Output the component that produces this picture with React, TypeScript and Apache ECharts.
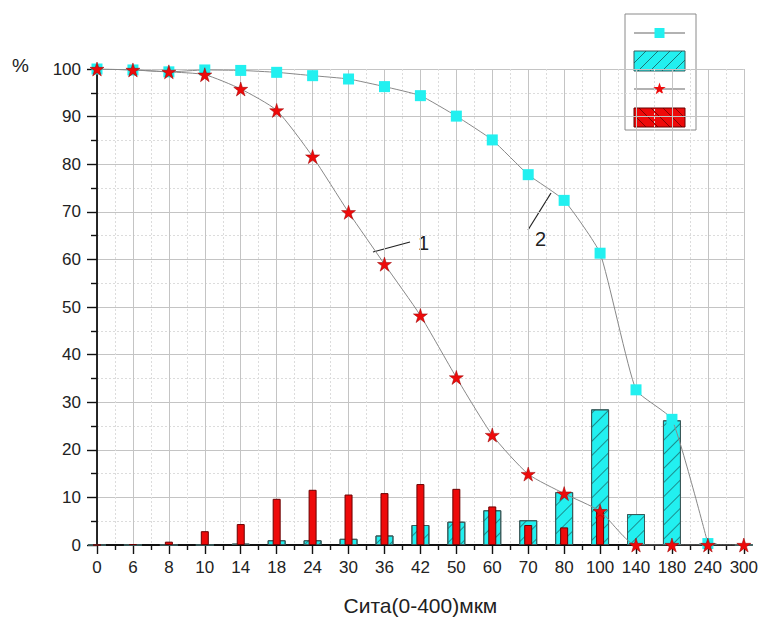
import React, { useEffect, useRef } from "react";
import * as echarts from "echarts";

const categories = ["0", "6", "8", "10", "14", "18", "24", "30", "36", "42", "50", "60", "70", "80", "100", "140", "180", "240", "300"];
const passingCyan: (number | null)[] = [100, 99.8, 99.4, 99.8, 99.7, 99.3, 98.6, 97.9, 96.3, 94.4, 90.1, 85.1, 77.8, 72.4, 61.3, 32.6, 26.4, 0.3, null];
const passingRed = [100, 99.8, 99.4, 98.8, 95.8, 91.3, 81.6, 69.9, 59.0, 48.2, 35.2, 23.1, 14.9, 10.8, 7.1, 0, 0, 0, 0];
const fractionCyan = [0, 0, 0, 0, 0.3, 1.0, 1.0, 1.3, 2.0, 4.2, 4.9, 7.3, 5.2, 11.1, 28.5, 6.5, 26.2, 0.3, 0];
const fractionRed = [0, 0.2, 0.7, 2.9, 4.4, 9.7, 11.6, 10.6, 10.9, 12.8, 11.8, 8.1, 4.2, 3.7, 7.4, 0, 0, 0, 0];
const yTicks = { min: 0, max: 100, step: 10 };
const xTitle = "Сита(0-400)мкм";
const yTitle = "%";
const curveLabels = ["1", "2"];

const STAR = "path://M50 0L61.2 34.5L97.6 34.5L68.2 55.9L79.4 90.5L50 69.1L20.6 90.5L31.8 55.9L2.4 34.5L38.8 34.5Z";
const FONT = "Liberation Sans, Arial, sans-serif";
const CYAN = "#22f0f0";
const RED = "#ee0a0a";

function hatch(x0: number, y0: number, x1: number, y1: number, step: number, dir: 1 | -1, color: string) {
  const els: any[] = [];
  const h = y1 - y0;
  for (let s = -h; s < x1 - x0 + h; s += step) {
    let ax = x0 + s, bx = x0 + s + h;
    let ay: number, by: number;
    if (dir === 1) {
      ay = y1; by = y0;
      if (ax < x0) { ay = y1 - (x0 - ax); ax = x0; }
      if (bx > x1) { by = y0 + (bx - x1); bx = x1; }
    } else {
      ay = y0; by = y1;
      if (ax < x0) { ay = y0 + (x0 - ax); ax = x0; }
      if (bx > x1) { by = y1 - (bx - x1); bx = x1; }
    }
    if (ax >= bx) continue;
    els.push({ type: "line", shape: { x1: ax, y1: ay, x2: bx, y2: by }, style: { stroke: color, lineWidth: 1 }, silent: true });
  }
  return els;
}

export default function App() {
  const ref = useRef<HTMLDivElement>(null);
  useEffect(() => {
    document.body.style.margin = "0";
    const chart = echarts.init(ref.current!, null, { renderer: "svg" });
    const xAxisBase = {
      type: "value",
      min: 0,
      max: categories.length - 1,
      interval: 1,
    };
    const legendX0 = 634, legendX1 = 685;
    const option: any = {
      animation: false,
      backgroundColor: "#fff",
      grid: { left: 97, top: 69, right: 16, bottom: 71 },
      xAxis: [
        {
          ...xAxisBase,
          name: xTitle,
          nameLocation: "middle",
          nameGap: 50,
          nameTextStyle: { fontFamily: FONT, fontSize: 21, color: "#222" },
          axisLine: { show: true, onZero: false, lineStyle: { color: "#111", width: 1.8 } },
          axisTick: { show: true, inside: false, length: 9, lineStyle: { color: "#111", width: 1.4 } },
          minorTick: { show: true, splitNumber: 2, length: 5, lineStyle: { color: "#111", width: 1.4 } },
          axisLabel: {
            margin: 14,
            fontFamily: FONT,
            fontSize: 17,
            color: "#222",
            formatter: (v: number) => categories[Math.round(v)] ?? "",
          },
          splitLine: { show: true, lineStyle: { color: "#c4c4c4", width: 1 } },
          minorSplitLine: { show: true, lineStyle: { color: "#dcdcdc", width: 1, type: [2, 2] } },
        },
        { ...xAxisBase, show: false },
      ],
      yAxis: {
        type: "value",
        min: yTicks.min,
        max: yTicks.max,
        interval: yTicks.step,
        axisLine: { show: true, lineStyle: { color: "#111", width: 1.8 } },
        axisTick: { show: true, length: 10, lineStyle: { color: "#111", width: 1.4 } },
        minorTick: { show: true, splitNumber: 2, length: 6, lineStyle: { color: "#111", width: 1.4 } },
        axisLabel: { margin: 16, fontFamily: FONT, fontSize: 17, color: "#222" },
        splitLine: { show: true, lineStyle: { color: "#c4c4c4", width: 1 } },
        minorSplitLine: { show: true, lineStyle: { color: "#dcdcdc", width: 1, type: [2, 2] } },
      },
      series: [
        {
          type: "bar",
          xAxisIndex: 0,
          barWidth: 18,
          data: fractionCyan.map((v, i) => [i, v]),
          itemStyle: {
            color: CYAN,
            borderColor: "#3a5a5a",
            borderWidth: 1,
            decal: {
              symbol: "rect",
              symbolSize: 1,
              color: "rgba(20,60,60,0.55)",
              dashArrayX: [1, 0],
              dashArrayY: [1, 9],
              rotation: -Math.PI / 4,
            },
          },
          z: 2,
        },
        {
          type: "bar",
          xAxisIndex: 1,
          barWidth: 8,
          data: fractionRed.map((v, i) => [i, v]),
          itemStyle: { color: RED, borderColor: "#6a0000", borderWidth: 1 },
          z: 3,
        },
        {
          type: "line",
          xAxisIndex: 0,
          data: passingCyan.map((v, i) => [i, v]),
          smooth: 0.15,
          connectNulls: false,
          symbol: "rect",
          symbolSize: 11,
          itemStyle: { color: CYAN },
          lineStyle: { color: "#888", width: 1 },
          z: 4,
        },
        {
          type: "line",
          xAxisIndex: 0,
          data: passingRed.map((v, i) => [i, v]),
          smooth: 0.2,
          symbol: STAR,
          symbolSize: 14,
          itemStyle: { color: RED, borderColor: "#900", borderWidth: 0.5 },
          lineStyle: { color: "#888", width: 1 },
          z: 5,
        },
      ],
      graphic: [
        { type: "text", left: 12, top: 56, style: { text: yTitle, fontFamily: FONT, fontSize: 19, fill: "#222" } },
        { type: "line", shape: { x1: 373, y1: 252, x2: 410, y2: 242 }, style: { stroke: "#222", lineWidth: 1.2 } },
        { type: "text", x: 418, y: 233, style: { text: curveLabels[0], fontFamily: FONT, fontSize: 20, fill: "#222" } },
        { type: "line", shape: { x1: 528, y1: 230, x2: 551, y2: 193 }, style: { stroke: "#222", lineWidth: 1.2 } },
        { type: "text", x: 535, y: 229, style: { text: curveLabels[1], fontFamily: FONT, fontSize: 20, fill: "#222" } },
        {
          type: "group",
          z: 100,
          children: [
            { type: "rect", shape: { x: 625, y: 14, width: 71, height: 116 }, style: { fill: "#fff", stroke: "#8a8a8a", lineWidth: 1 } },
            { type: "line", shape: { x1: legendX0, y1: 33, x2: legendX1, y2: 33 }, style: { stroke: "#999", lineWidth: 1.5 } },
            { type: "rect", shape: { x: 654.5, y: 28, width: 10, height: 10 }, style: { fill: CYAN } },
            { type: "rect", shape: { x: legendX0, y: 51, width: legendX1 - legendX0, height: 20 }, style: { fill: CYAN, stroke: "#3a5a5a", lineWidth: 1 } },
            ...hatch(legendX0, 51, legendX1, 71, 12, 1, "rgba(20,70,70,0.7)"),
            { type: "line", shape: { x1: legendX0, y1: 89, x2: legendX1, y2: 89 }, style: { stroke: "#999", lineWidth: 1.5 } },
            { type: "polygon", shape: { points: [[0, -6.5], [1.5, -2], [6.2, -2], [2.4, 0.8], [3.8, 5.3], [0, 2.5], [-3.8, 5.3], [-2.4, 0.8], [-6.2, -2], [-1.5, -2]].map(p => [p[0] + 659.5, p[1] + 89]) }, style: { fill: RED } },
            { type: "rect", shape: { x: legendX0, y: 108, width: legendX1 - legendX0, height: 19 }, style: { fill: RED, stroke: "#6a0000", lineWidth: 1 } },
            ...hatch(legendX0, 108, legendX1, 127, 12, -1, "rgba(90,0,0,0.7)"),
          ],
        },
      ],
    };
    chart.setOption(option);
    return () => chart.dispose();
  }, []);
  return <div ref={ref} style={{ position: "fixed", left: 0, top: 0, width: 761, height: 621 }} />;
}
